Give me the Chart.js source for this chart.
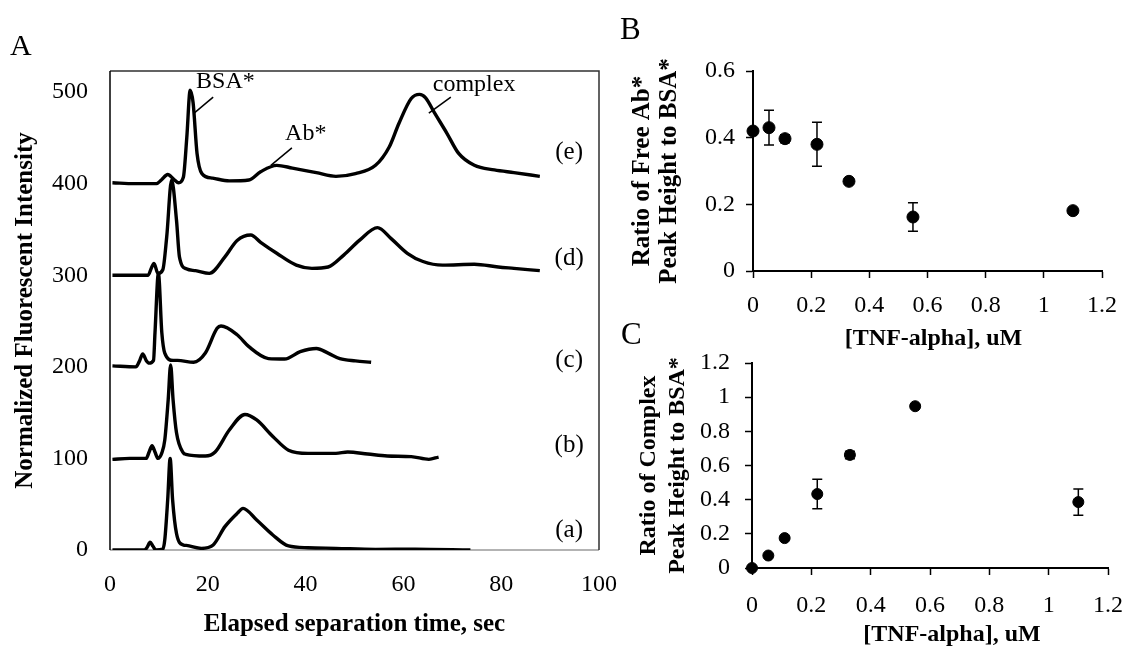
<!DOCTYPE html>
<html><head><meta charset="utf-8">
<script src="https://cdn.jsdelivr.net/npm/chart.js@4.4.1/dist/chart.umd.min.js"></script>
<style>
html,body{margin:0;padding:0;background:#fff;}
#wrap{position:relative;width:1132px;height:653px;overflow:hidden;background:#fff;}
canvas{position:absolute;}
.lbl{position:absolute;font-family:"Liberation Serif","Times New Roman",serif;line-height:1;color:#000;}
</style></head><body>
<div id="wrap">
<canvas id="cA" style="left:0;top:0" width="640" height="653"></canvas>
<canvas id="cB" style="left:615px;top:0" width="517" height="350"></canvas>
<canvas id="cC" style="left:615px;top:330px" width="517" height="323"></canvas>
<div class="lbl" style="left:10px;top:30px;font-size:30px">A</div>
<div class="lbl" style="left:620px;top:13px;font-size:31px">B</div>
<div class="lbl" style="left:621px;top:318px;font-size:31px">C</div>
</div>
<script>
// ---------- Panel A: electropherograms ----------
const aTime = [0.5, 4, 7, 7.6, 8.2, 8.8, 9.4, 10.8, 11.2, 11.8, 12.3, 12.8, 13.6, 15, 15.6, 18.7, 21.1, 23.5, 26, 27.2, 30, 33.3, 36.5, 40.5, 46.2, 54.3, 62.4, 73.7];
const aVal  = [0, 0, 0, 3, 8.4, 4, 0, 1, 11, 55, 100, 55, 18, 5.5, 5, 1.8, 5.5, 25.5, 40, 45.5, 32.7, 16.4, 4.4, 2.5, 1.8, 0.7, 1, 0];

const bTime = [0.5, 4, 7.4, 8, 8.6, 9.2, 9.8, 10.6, 11.2, 11.9, 12.4, 12.9, 13.6, 15, 15.5, 19.5, 21.5, 24.4, 27.6, 30, 33.3, 36.5, 40.5, 46.2, 48.6, 52.7, 56.7, 61.6, 65.2, 67.2];
const bVal  = [99, 100, 100, 107, 114, 107, 100, 106, 120, 164, 202, 164, 128, 106, 104.5, 102.6, 107, 131, 148, 142, 124, 109, 105.5, 105.5, 107, 104.8, 102.6, 102, 99, 101.5];

const cTime = [0.5, 5.3, 6, 6.7, 7.4, 8.0, 8.9, 9.2, 9.9, 10.6, 11.2, 12.9, 13.8, 17.1, 19.5, 21.9, 22.7, 26, 28.4, 32.4, 35.7, 38.9, 42.2, 44.6, 47, 50.2, 53.4];
const cVal  = [201, 200, 206, 214, 207, 204, 207, 237, 302, 237, 215, 207, 207, 205, 215, 242, 244.5, 235, 222, 209, 208.5, 216.5, 220, 215, 209, 206.5, 205];

const dTime = [0.5, 4, 7.8, 8.4, 9.0, 9.8, 10.8, 11.6, 12.6, 13.6, 14.2, 15.6, 17.5, 20.3, 23.5, 26, 28.8, 30.8, 34.1, 38.1, 41.3, 44.6, 47.8, 51, 54.7, 57.5, 60.8, 64, 68, 74.5, 79.4, 82.6, 87.9];
const dVal  = [300, 300, 300, 307, 313, 302, 306, 342, 404, 360, 320, 307, 305, 302, 320, 338, 344, 336, 324, 311, 307.5, 309, 322, 338, 352, 340, 324, 315, 311, 312, 309, 307.5, 305];

const eTime = [0.5, 5, 9.5, 10.5, 11.8, 13, 14, 15, 15.7, 16.4, 17, 17.8, 18.8, 21, 24.4, 28.4, 30.8, 34.1, 37.3, 42.2, 46.2, 50.2, 54.3, 57.1, 59.1, 61.6, 63.3, 64.5, 66.4, 68.9, 71.3, 74.5, 78.6, 82.6, 87.9];
const eVal  = [401, 400, 400, 404, 410, 405, 401, 407, 450, 502, 488, 433, 411, 406, 403, 404, 413, 420, 417, 412, 408, 411, 420, 440, 466, 493, 497.5, 494, 477, 455, 433, 420, 415, 412, 408];

const traceNames = ['(a)', '(b)', '(c)', '(d)', '(e)'];
const traceLabelLevel = [21.8, 114.6, 207.4, 318.8, 434.5];
const xTicksA = [0, 20, 40, 60, 80, 100];
const yTicksA = [0, 100, 200, 300, 400, 500];

// ---------- Panel B / C: peak height ratios ----------
const tnf = [0, 0.055, 0.11, 0.22, 0.33, 0.55, 1.1];
const freeAbRatio = [0.42, 0.43, 0.397, 0.38, 0.269, 0.162, 0.181];
const freeAbErr   = [0.004, 0.052, 0.012, 0.066, 0.004, 0.043, 0.004];
const complexRatio = [0, 0.073, 0.175, 0.433, 0.662, 0.947, 0.386];
const complexErr   = [0.004, 0.006, 0.006, 0.086, 0.022, 0.01, 0.077];

const xTicksBC = [0, 0.2, 0.4, 0.6, 0.8, 1, 1.2];
const xTickLabelsBC = ['0', '0.2', '0.4', '0.6', '0.8', '1', '1.2'];
const yTicksB = [0, 0.2, 0.4, 0.6];
const yTickLabelsB = ['0', '0.2', '0.4', '0.6'];
const yTicksC = [0, 0.2, 0.4, 0.6, 0.8, 1, 1.2];
const yTickLabelsC = ['0', '0.2', '0.4', '0.6', '0.8', '1', '1.2'];

const F = "'Liberation Serif', 'Times New Roman', serif";
Chart.defaults.font.family = F;
Chart.defaults.color = '#000';

function pts(t, v) { return t.map((x, i) => ({x: x, y: v[i]})); }

// annotations in panel A (data coordinates)
const annotA = [
  {text: 'BSA*', at: [17.6, 511], line: [[21.1, 494.5], [17.2, 477]]},
  {text: 'Ab*', at: [35.8, 455], line: [[37.2, 439], [32.9, 420]]},
  {text: 'complex', at: [66.0, 507.6], line: [[69.7, 494.5], [65.2, 477]]}
];

const boxA = {
  id: 'boxA',
  beforeDatasetsDraw(chart) {
    const {ctx, chartArea: a} = chart;
    ctx.save();
    ctx.lineWidth = 1.5;
    ctx.strokeStyle = '#9a9a9a';
    ctx.beginPath(); ctx.moveTo(a.left, a.bottom); ctx.lineTo(a.right, a.bottom); ctx.stroke();
    ctx.strokeStyle = '#303030';
    ctx.beginPath(); ctx.moveTo(a.left, a.top); ctx.lineTo(a.right, a.top); ctx.lineTo(a.right, a.bottom); ctx.stroke();
    ctx.strokeStyle = '#000';
    ctx.beginPath(); ctx.moveTo(a.left, a.top); ctx.lineTo(a.left, a.bottom); ctx.stroke();
    ctx.restore();
  },
  afterDatasetsDraw(chart) {
    const {ctx, scales: {x, y}} = chart;
    ctx.save();
    ctx.fillStyle = '#000';
    ctx.strokeStyle = '#000';
    ctx.lineWidth = 1.5;
    ctx.font = "24px " + F;
    ctx.textBaseline = 'middle';
    ctx.textAlign = 'left';
    annotA.forEach(a => {
      ctx.fillText(a.text, x.getPixelForValue(a.at[0]), y.getPixelForValue(a.at[1]));
      ctx.beginPath();
      ctx.moveTo(x.getPixelForValue(a.line[0][0]), y.getPixelForValue(a.line[0][1]));
      ctx.lineTo(x.getPixelForValue(a.line[1][0]), y.getPixelForValue(a.line[1][1]));
      ctx.stroke();
    });
    ctx.font = "25px " + F;
    ctx.textAlign = 'center';
    traceNames.forEach((n, i) => {
      ctx.fillText(n, x.getPixelForValue(93.9), y.getPixelForValue(traceLabelLevel[i]));
    });
    ctx.restore();
  }
};

const traces = [[aTime, aVal], [bTime, bVal], [cTime, cVal], [dTime, dVal], [eTime, eVal]];

new Chart(document.getElementById('cA'), {
  type: 'line',
  data: {
    datasets: traces.map((tr, i) => ({
      label: traceNames[i],
      data: pts(tr[0], tr[1]),
      borderColor: '#000',
      borderWidth: 3.4,
      pointRadius: 0,
      cubicInterpolationMode: 'monotone',
      fill: false
    }))
  },
  options: {
    responsive: false, animation: false, devicePixelRatio: 1,
    layout: {padding: {left: 0, right: 41, top: 71, bottom: 0}},
    plugins: {legend: {display: false}, tooltip: {enabled: false}},
    scales: {
      x: {
        type: 'linear', min: 0, max: 100,
        afterBuildTicks: s => { s.ticks = xTicksA.map(v => ({value: v})); },
        afterFit: s => { s.height = 103; s.paddingLeft = 0; s.paddingRight = 0; },
        ticks: {font: {size: 24, family: F}, color: '#000', padding: 20.5, maxRotation: 0, autoSkip: false, callback: v => String(v)},
        grid: {display: false, drawTicks: false},
        border: {display: false},
        title: {display: true, text: 'Elapsed separation time, sec', color: '#000',
                font: {size: 25, weight: 'bold', family: F}, padding: {top: 0, bottom: 13}}
      },
      y: {
        type: 'linear', min: 0, max: 523,
        afterBuildTicks: s => { s.ticks = yTicksA.map(v => ({value: v})); },
        afterFit: s => { s.width = 110; s.paddingTop = 0; s.paddingBottom = 0; },
        ticks: {font: {size: 24, family: F}, color: '#000', padding: 22, autoSkip: false, callback: v => String(v)},
        grid: {display: false, drawTicks: false},
        border: {display: false},
        title: {display: true, text: 'Normalized Fluorescent Intensity', color: '#000',
                font: {size: 25, weight: 'bold', family: F}, padding: {top: 11, bottom: 0}}
      }
    }
  },
  plugins: [boxA]
});

const errorBars = {
  id: 'errorBars',
  beforeDatasetsDraw(chart, args, opts) {
    const {ctx, scales: {x, y}} = chart;
    const ds = chart.data.datasets[0];
    ctx.save();
    ctx.strokeStyle = '#000';
    ctx.lineWidth = 1.5;
    ds.data.forEach((p, i) => {
      const e = opts.errors[i];
      if (!e) return;
      const px = x.getPixelForValue(p.x);
      const y1 = y.getPixelForValue(p.y + e), y2 = y.getPixelForValue(p.y - e);
      ctx.beginPath();
      ctx.moveTo(px, y1); ctx.lineTo(px, y2);
      ctx.moveTo(px - 5, y1); ctx.lineTo(px + 5, y1);
      ctx.moveTo(px - 5, y2); ctx.lineTo(px + 5, y2);
      ctx.stroke();
    });
    ctx.restore();
  }
};

const xTitle = {
  id: 'xTitle',
  afterDraw(chart, args, o) {
    const {ctx, chartArea: a} = chart;
    ctx.save();
    ctx.font = 'bold ' + o.size + 'px ' + F;
    ctx.fillStyle = '#000';
    ctx.textAlign = 'center';
    ctx.textBaseline = 'middle';
    ctx.fillText(o.text, (a.left + a.right) / 2 + o.dx, o.y);
    ctx.restore();
  }
};

function ratioChart(id, yVals, yErr, yMax, yTicks, yLabels, cfg) {
  return new Chart(document.getElementById(id), {
    type: 'scatter',
    data: {datasets: [{
      data: pts(tnf, yVals),
      backgroundColor: '#000', borderColor: '#000',
      pointRadius: cfg.r, pointHoverRadius: cfg.r, clip: false
    }]},
    options: {
      responsive: false, animation: false, devicePixelRatio: 1,
      layout: {padding: {left: 0, right: cfg.padRight, top: cfg.padTop, bottom: 0}},
      plugins: {legend: {display: false}, tooltip: {enabled: false}, errorBars: {errors: yErr},
                xTitle: {text: '[TNF-alpha], uM', size: 24, dx: cfg.titleDx, y: cfg.titleY}},
      scales: {
        x: {
          type: 'linear', min: 0, max: 1.2,
          afterBuildTicks: s => { s.ticks = xTicksBC.map(v => ({value: v})); },
          afterFit: s => { s.height = cfg.xH; s.paddingLeft = 0; s.paddingRight = 0; },
          ticks: {font: {size: 24, family: F}, color: '#000', padding: cfg.xPad, maxRotation: 0, autoSkip: false,
                  callback: (v, i) => xTickLabelsBC[i]},
          grid: {display: true, drawOnChartArea: false, drawTicks: true, tickLength: 7, color: '#000', tickColor: '#000', tickWidth: 1.5},
          border: {display: true, color: '#000', width: 2},
          title: {display: false}
        },
        y: {
          type: 'linear', min: 0, max: yMax,
          afterBuildTicks: s => { s.ticks = yTicks.map(v => ({value: v})); },
          afterFit: s => { s.width = cfg.yW; s.paddingTop = 0; s.paddingBottom = 0; },
          ticks: {font: {size: 24, family: F}, color: '#000', padding: cfg.yPad, autoSkip: false,
                  callback: (v, i) => yLabels[i]},
          grid: {display: true, drawOnChartArea: false, drawTicks: true, tickLength: 7, color: '#000', tickColor: '#000', tickWidth: 1.5},
          border: {display: true, color: '#000', width: 2},
          title: {display: true, text: cfg.title, color: '#000',
                  font: {size: cfg.tsize, weight: 'bold', family: F, lineHeight: cfg.lh + 'px'}, padding: {top: cfg.titlePad, bottom: 0}}
        }
      }
    },
    plugins: [errorBars, xTitle]
  });
}

ratioChart('cB', freeAbRatio, freeAbErr, 0.6, yTicksB, yTickLabelsB,
  {r: 6, padRight: 30, padTop: 71, xH: 79, yW: 138, xPad: 13.6, yPad: 11,
   title: ['Ratio of Free Ab*', 'Peak Height to BSA*'], tsize: 25, lh: 27, titlePad: 14.5,
   titleDx: 6, titleY: 339});

ratioChart('cC', complexRatio, complexErr, 1.2, yTicksC, yTickLabelsC,
  {r: 5.5, padRight: 24, padTop: 33, xH: 85, yW: 137, xPad: 16.6, yPad: 15,
   title: ['Ratio of Complex', 'Peak Height to BSA*'], tsize: 24, lh: 29, titlePad: 19.5,
   titleDx: 22, titleY: 305});
</script>
</body></html>
